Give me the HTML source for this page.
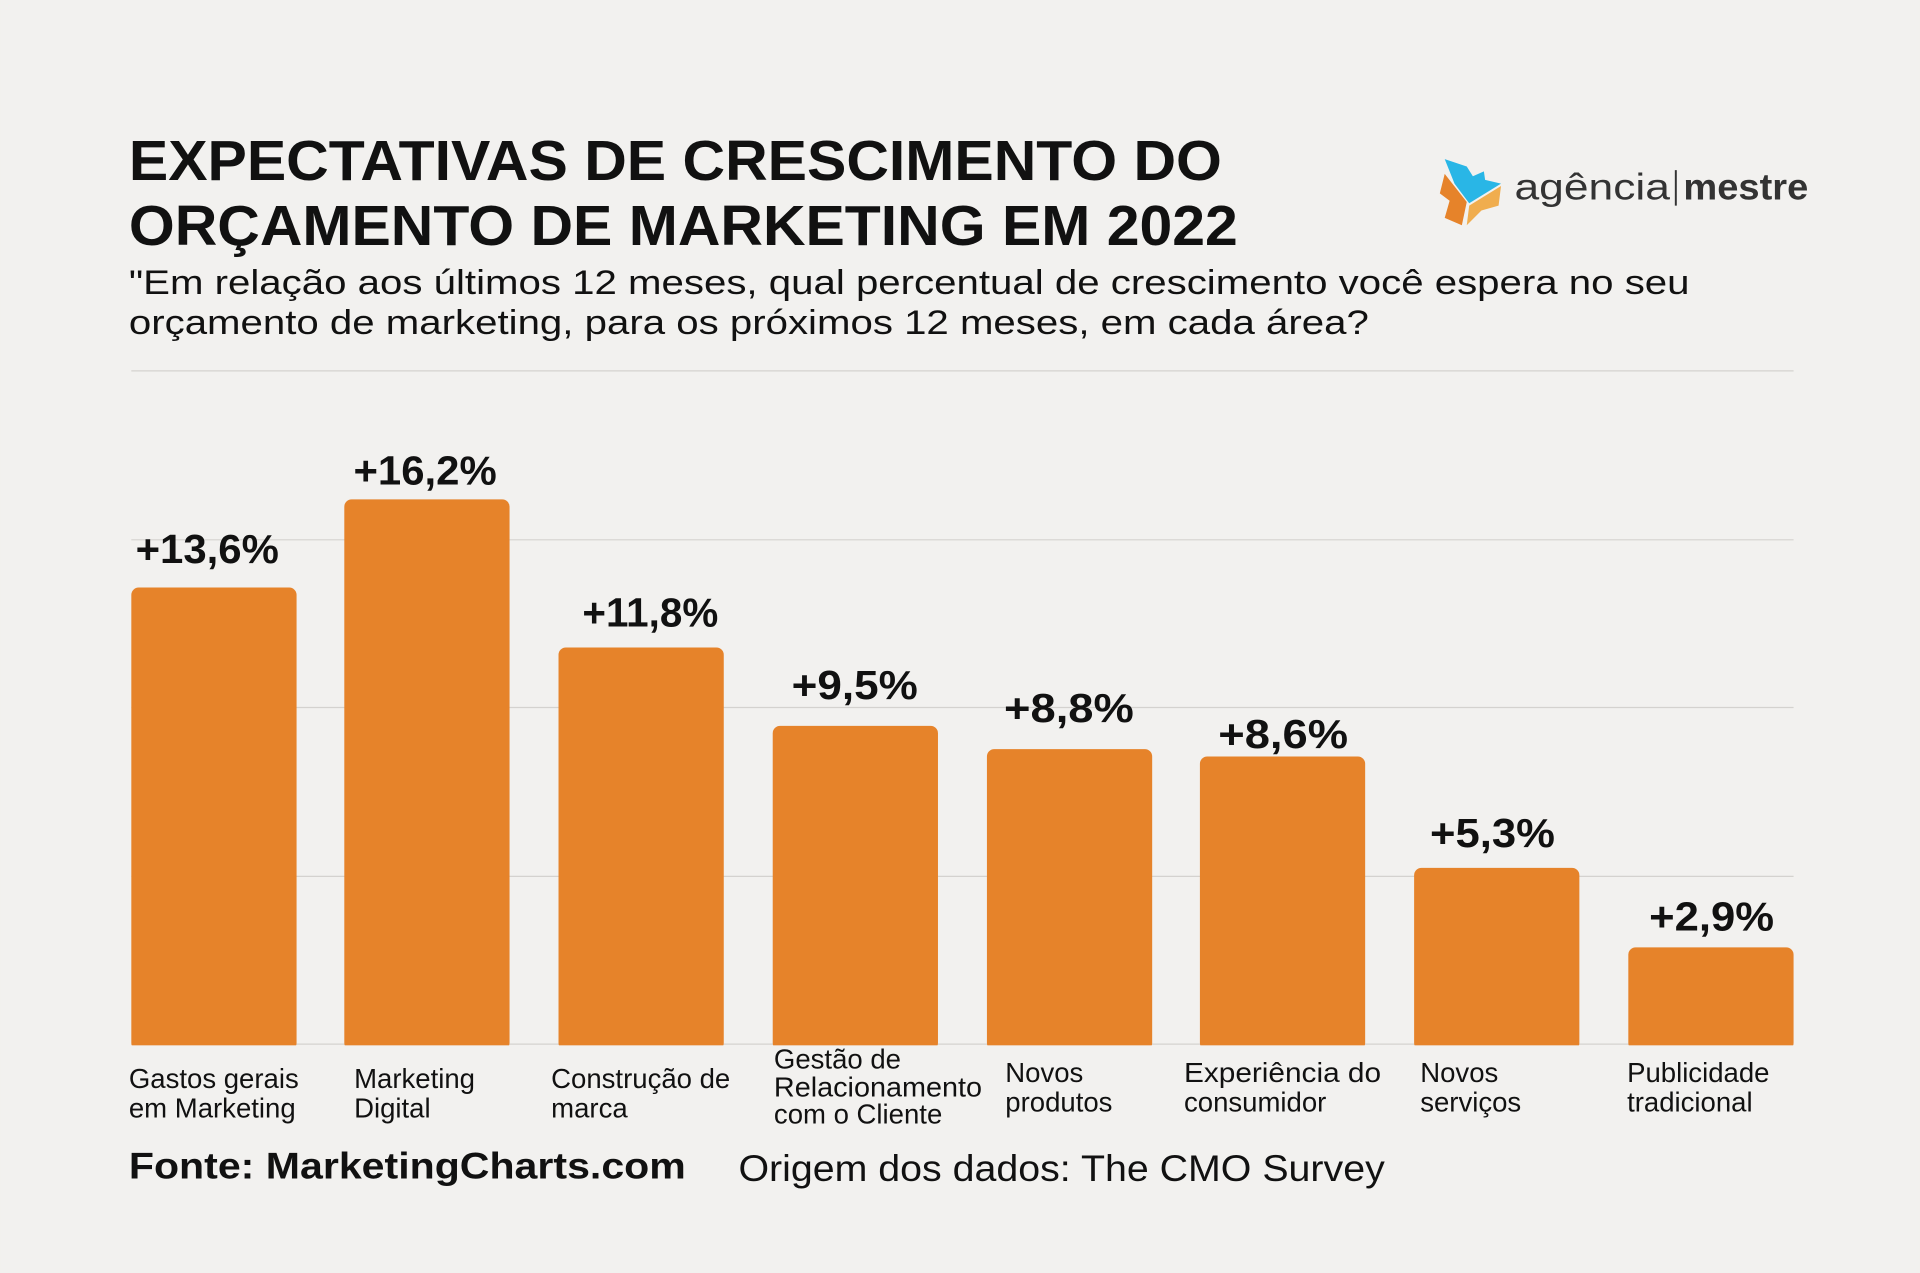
<!DOCTYPE html>
<html><head><meta charset="utf-8"><style>html,body{margin:0;padding:0;background:#f2f1ef}svg{display:block}</style></head>
<body>
<svg width="1920" height="1273" viewBox="0 0 1568 1040" xmlns="http://www.w3.org/2000/svg" font-family="Liberation Sans, sans-serif">
<rect width="1568" height="1040" fill="#f2f1ef"/>
<text x="105" y="147" font-size="46" font-weight="bold" fill="#111" textLength="893" lengthAdjust="spacingAndGlyphs">EXPECTATIVAS DE CRESCIMENTO DO</text>
<text x="105" y="200" font-size="46" font-weight="bold" fill="#111" textLength="906" lengthAdjust="spacingAndGlyphs">ORÇAMENTO DE MARKETING EM 2022</text>
<text x="105" y="240" font-size="28" fill="#111" textLength="1275" lengthAdjust="spacingAndGlyphs">"Em relação aos últimos 12 meses, qual percentual de crescimento você espera no seu</text>
<text x="105" y="273" font-size="28" fill="#111" textLength="1013" lengthAdjust="spacingAndGlyphs">orçamento de marketing, para os próximos 12 meses, em cada área?</text>
<!-- logo -->
<polygon points="1180,130 1198,136 1203,144 1212,140 1213,147 1226,150 1200,166 1188,150" fill="#29b6e6"/>
<polygon points="1180,142 1198,165 1194,184 1180,178 1184,164 1176,158" fill="#e6832a"/>
<polygon points="1200,168 1226,152 1224,168 1210,172 1198,184" fill="#f0ad4e"/>
<text x="1237" y="163" font-size="30" fill="#333" textLength="127" lengthAdjust="spacingAndGlyphs">agência</text>
<rect x="1368" y="139" width="1.6" height="29" fill="#333"/>
<text x="1375" y="163" font-size="30" font-weight="bold" fill="#333" textLength="102" lengthAdjust="spacingAndGlyphs">mestre</text>
<!-- grid -->
<g stroke="#d4d2cf" stroke-width="1">
<line x1="107" y1="303" x2="1465" y2="303"/>
<line x1="107" y1="441" x2="1465" y2="441"/>
<line x1="107" y1="578" x2="1465" y2="578"/>
<line x1="107" y1="716" x2="1465" y2="716"/>
<line x1="107" y1="853" x2="1465" y2="853"/>
</g>
<g fill="#e6832a">
<rect x="107" y="480" width="135" height="378" rx="6"/>
<rect x="281" y="408" width="135" height="450" rx="6"/>
<rect x="456" y="529" width="135" height="329" rx="6"/>
<rect x="631" y="593" width="135" height="265" rx="6"/>
<rect x="806" y="612" width="135" height="246" rx="6"/>
<rect x="980" y="618" width="135" height="240" rx="6"/>
<rect x="1155" y="709" width="135" height="149" rx="6"/>
<rect x="1330" y="774" width="135" height="84" rx="6"/>
</g>
<rect x="100" y="854" width="1370" height="10" fill="#f2f1ef"/>
<g font-size="33" font-weight="bold" fill="#111" text-anchor="middle">
<text x="169" y="460" textLength="117" lengthAdjust="spacingAndGlyphs">+13,6%</text>
<text x="347" y="396" textLength="117" lengthAdjust="spacingAndGlyphs">+16,2%</text>
<text x="531" y="512" textLength="111" lengthAdjust="spacingAndGlyphs">+11,8%</text>
<text x="698" y="571" textLength="103" lengthAdjust="spacingAndGlyphs">+9,5%</text>
<text x="873" y="590" textLength="106" lengthAdjust="spacingAndGlyphs">+8,8%</text>
<text x="1048" y="611" textLength="106" lengthAdjust="spacingAndGlyphs">+8,6%</text>
<text x="1219" y="692" textLength="102" lengthAdjust="spacingAndGlyphs">+5,3%</text>
<text x="1398" y="760" textLength="102" lengthAdjust="spacingAndGlyphs">+2,9%</text>
</g>
<g font-size="22.5" fill="#111">
<text x="105" y="889">Gastos gerais</text><text x="105" y="913">em Marketing</text>
<text x="289" y="889">Marketing</text><text x="289" y="913">Digital</text>
<text x="450" y="889">Construção de</text><text x="450" y="913">marca</text>
<text x="632" y="873">Gestão de</text><text x="632" y="896" textLength="170" lengthAdjust="spacingAndGlyphs">Relacionamento</text><text x="632" y="918">com o Cliente</text>
<text x="821" y="884">Novos</text><text x="821" y="908">produtos</text>
<text x="967" y="884" textLength="161" lengthAdjust="spacingAndGlyphs">Experiência do</text><text x="967" y="908">consumidor</text>
<text x="1160" y="884">Novos</text><text x="1160" y="908">serviços</text>
<text x="1329" y="884">Publicidade</text><text x="1329" y="908">tradicional</text>
</g>
<text x="105" y="963" font-size="30" font-weight="bold" fill="#111" textLength="455" lengthAdjust="spacingAndGlyphs">Fonte: MarketingCharts.com</text>
<text x="603" y="965" font-size="30" fill="#111" textLength="528" lengthAdjust="spacingAndGlyphs">Origem dos dados: The CMO Survey</text>
</svg>
</body></html>
